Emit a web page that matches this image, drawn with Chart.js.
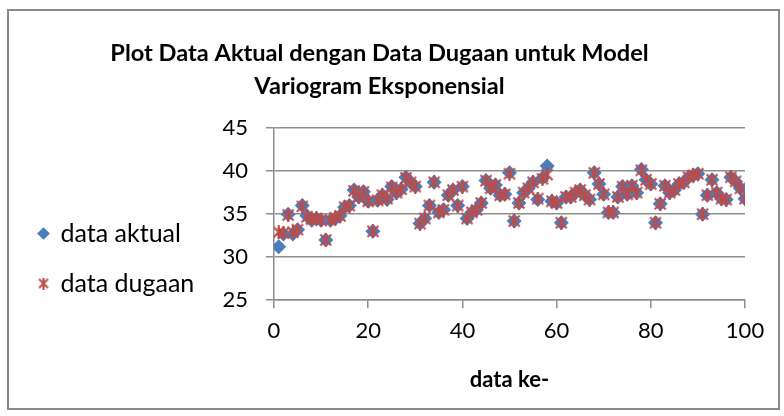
<!DOCTYPE html>
<html>
<head>
<meta charset="utf-8">
<script src="https://cdn.jsdelivr.net/npm/chart.js@4/dist/chart.umd.min.js"></script>
<style>
  html, body { margin: 0; padding: 0; background: #fff; }
  #wrap { width: 784px; height: 416px; }
</style>
</head>
<body>
<div id="wrap"><canvas id="myChart" width="784" height="416"></canvas></div>
<script>
// data
const dataKe = [];
for (let n = 1; n <= 100; n++) dataKe.push(n);

const dataAktual = [
  31.2, 32.7, 35.0, 32.7, 33.2, 36.0, 34.8, 34.3, 34.5, 34.3,
  32.0, 34.3, 34.5, 34.8, 35.8, 36.0, 37.8, 37.0, 37.6, 36.5,
  33.0, 36.6, 37.2, 36.7, 38.2, 37.5, 37.9, 39.3, 38.7, 38.2,
  33.9, 34.5, 36.0, 38.7, 35.2, 35.5, 37.2, 37.8, 36.0, 38.2,
  34.5, 35.2, 35.5, 36.3, 38.9, 38.0, 38.4, 37.2, 37.3, 39.8,
  34.2, 36.3, 37.5, 38.0, 38.7, 36.7, 39.2, 40.6, 36.5, 36.3,
  34.0, 37.0, 37.0, 37.5, 37.8, 37.2, 36.7, 39.8, 38.5, 37.3,
  35.2, 35.2, 37.0, 38.2, 37.3, 38.3, 37.5, 40.2, 39.0, 38.5,
  34.0, 36.2, 38.3, 37.5, 37.8, 38.5, 38.7, 39.3, 39.5, 39.7,
  35.0, 37.2, 39.0, 37.5, 36.8, 36.7, 39.3, 38.8, 38.0, 36.8
];

const dataDugaan = [
  32.9, 32.8, 34.9, 32.9, 33.2, 35.9, 34.7, 34.4, 34.5, 34.3,
  32.0, 34.3, 34.6, 34.8, 35.8, 36.0, 37.7, 37.0, 37.6, 36.5,
  33.0, 36.6, 37.2, 36.8, 38.1, 37.5, 37.9, 39.2, 38.7, 38.2,
  33.9, 34.5, 36.0, 38.7, 35.2, 35.5, 37.2, 37.8, 36.0, 38.2,
  34.5, 35.2, 35.5, 36.3, 38.9, 38.0, 38.4, 37.2, 37.3, 39.7,
  34.2, 36.3, 37.5, 38.0, 38.7, 36.8, 39.1, 39.6, 36.5, 36.3,
  34.0, 37.0, 37.0, 37.5, 37.8, 37.2, 36.7, 39.8, 38.5, 37.3,
  35.2, 35.2, 37.0, 38.2, 37.3, 38.3, 37.5, 40.1, 39.0, 38.5,
  34.0, 36.2, 38.3, 37.5, 37.8, 38.5, 38.7, 39.3, 39.5, 39.7,
  35.0, 37.2, 39.0, 37.5, 36.8, 36.7, 39.3, 38.8, 38.0, 36.8
];

const seriesNames = ['data aktual', 'data dugaan'];
const titleLines = ['Plot Data Aktual dengan Data Dugaan untuk Model', 'Variogram Eksponensial'];
const xTitle = 'data ke-';

const blue = '#4a7ebb';
const red = '#be4b48';
const gridGrey = '#8e8e8e';
const fontName = 'Lato, "Noto Sans", sans-serif';

// star marker like the excel one (x with a vertical bar)
function makeStar(size, color, lw) {
    let c = document.createElement('canvas');
    c.width = size;
    c.height = size;
    let g = c.getContext('2d');
    g.strokeStyle = color;
    g.lineWidth = lw;
    g.beginPath();
    g.moveTo(1.5, 1.5); g.lineTo(size - 1.5, size - 1.5);
    g.moveTo(size - 1.5, 1.5); g.lineTo(1.5, size - 1.5);
    g.moveTo(size / 2, 0); g.lineTo(size / 2, size);
    g.stroke();
    return c;
}
const starImg = makeStar(14, red, 2);
const starLegend = makeStar(12, red, 2);

function toPoints(xs, ys) {
    return xs.map((x, k) => ({ x: x, y: ys[k] }));
}

// frame round the whole chart, and legend moved down like the original
const framePlugin = {
    id: 'frame',
    afterLayout(chart) {
        let lg = chart.legend;
        if (lg) {
            lg.top += 51;
            lg.bottom += 51;
        }
    },
    beforeDraw(chart) {
        const ctx = chart.ctx;
        ctx.save();
        ctx.fillStyle = '#fff';
        ctx.fillRect(0, 0, chart.width, chart.height);
        ctx.strokeStyle = '#8a8a8a';
        ctx.lineWidth = 2;
        ctx.strokeRect(8, 10, 771, 399);
        ctx.restore();
    }
};

const padLeft = 14;
const plotLeft = 274;

let config = {
    type: 'scatter',
    data: {
        datasets: [
            {
                label: seriesNames[0],
                data: toPoints(dataKe, dataAktual),
                order: 2,
                pointStyle: 'rectRot',
                pointRadius: 7.5,
                pointHoverRadius: 7.5,
                backgroundColor: blue,
                borderColor: blue,
                borderWidth: 0
            },
            {
                label: seriesNames[1],
                data: toPoints(dataKe, dataDugaan),
                order: 1,
                pointStyle: starImg,
                pointRadius: 7,
                backgroundColor: red,
                borderColor: red
            }
        ]
    },
    options: {
        responsive: false,
        animation: false,
        events: [],
        layout: {
            padding: { top: 22, left: padLeft, right: 39, bottom: 23 }
        },
        plugins: {
            title: {
                display: true,
                text: titleLines,
                color: '#000',
                font: { family: fontName, size: 23.6, weight: 'bold', lineHeight: 1.4 },
                padding: { top: 15, bottom: 25 }
            },
            legend: {
                position: 'left',
                labels: {
                    usePointStyle: true,
                    boxWidth: 9,
                    boxHeight: 9,
                    padding: 25,
                    color: '#000',
                    font: { family: fontName, size: 25 },
                    generateLabels: function (chart) {
                        let items = Chart.defaults.plugins.legend.labels.generateLabels(chart);
                        items.sort((a, b) => a.datasetIndex - b.datasetIndex);
                        items[1].pointStyle = starLegend;
                        return items;
                    }
                }
            },
            tooltip: { enabled: false }
        },
        scales: {
            x: {
                type: 'linear',
                min: 0,
                max: 100,
                ticks: {
                    stepSize: 20,
                    padding: 10,
                    color: '#000',
                    font: { family: fontName, size: 22 }
                },
                grid: {
                    drawOnChartArea: false,
                    drawTicks: true,
                    tickLength: 8,
                    color: gridGrey,
                    lineWidth: 1.5
                },
                border: { color: gridGrey, width: 1.5 },
                title: {
                    display: true,
                    text: xTitle,
                    color: '#000',
                    font: { family: fontName, size: 22, weight: 'bold' },
                    padding: { top: 12, bottom: 0 }
                }
            },
            y: {
                min: 25,
                max: 45,
                ticks: {
                    stepSize: 5,
                    padding: 18,
                    color: '#000',
                    font: { family: fontName, size: 22 }
                },
                grid: {
                    color: gridGrey,
                    lineWidth: 1.5,
                    tickLength: 8
                },
                border: { color: gridGrey, width: 1.5 },
                afterFit: function (scale) {
                    let lg = scale.chart.legend;
                    if (lg && lg.width) {
                        scale.width = plotLeft - padLeft - lg.width;
                    }
                }
            }
        }
    },
    plugins: [framePlugin]
};

var myChart = new Chart(document.getElementById('myChart'), config);
</script>
</body>
</html>
